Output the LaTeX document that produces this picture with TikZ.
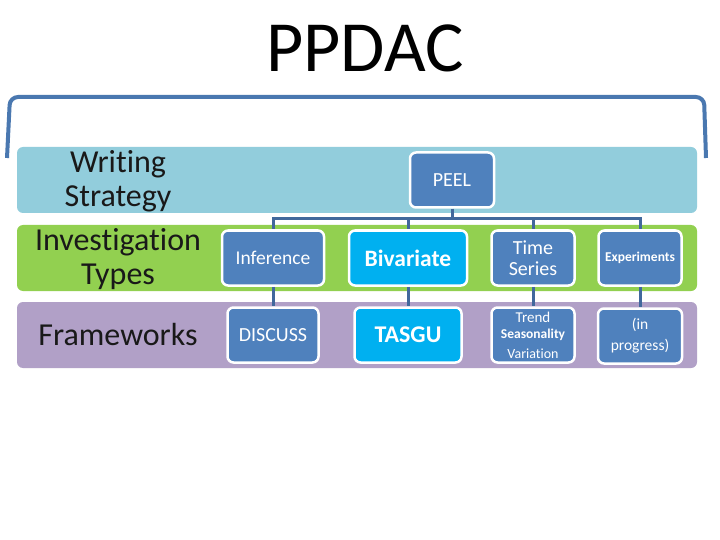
\documentclass[tikz,border=0pt]{standalone}
\usepackage{fontspec}
\setmainfont{Carlito}[Ligatures=NoCommon]
\definecolor{bandblue}{HTML}{92CDDC}
\definecolor{bandgreen}{HTML}{92D050}
\definecolor{bandpurple}{HTML}{B1A0C7}
\definecolor{boxblue}{HTML}{4F81BD}
\definecolor{boxcyan}{HTML}{00B0F0}
\definecolor{linecol}{HTML}{41689C}
\definecolor{bracketcol}{HTML}{4A78B0}
\tikzset{
  band/.style={fill=#1, rounded corners=6pt, draw=none, minimum width=680pt, minimum height=66pt, inner sep=0pt},
  box/.style={fill=boxblue, draw=white, line width=2.5pt, rounded corners=6pt, text=white, align=center, inner sep=0pt, minimum height=55pt},
  cbox/.style={box, fill=boxcyan},
  conn/.style={draw=linecol, line width=3pt},
  lab/.style={align=center, font=\fontsize{32}{34}\selectfont, text=black!90}
}
\begin{document}
\begin{tikzpicture}[x=1pt,y=-1pt]
\useasboundingbox (0,0) rectangle (720,540);
\fill[white] (0,0) rectangle (720,540);
% title
\node[font=\fontsize{72}{74}\selectfont] (title) at (365,48) {PPDAC};
% bracket
\draw[draw=bracketcol, line width=4pt, rounded corners=8pt] (7,158) -- (10,97) -- (704,97) -- (706,158);
% bands
\node[band=bandblue] (b1) at (357,180) {};
\node[band=bandgreen] (b2) at (357,258) {};
\node[band=bandpurple] (b3) at (357,335) {};
% labels
\node[lab] (l1) at (118,181) {Writing\\Strategy};
\node[lab] (l2) at (118,259) {Investigation\\Types};
\node[lab] (l3) at (118,335) {Frameworks};
% boxes
\node[box, minimum width=84pt, font=\fontsize{20}{22}\selectfont] (peel) at (452,180) {PEEL};
\node[box, minimum width=102pt, font=\fontsize{19.5}{21}\selectfont] (inf) at (273,258) {Inference};
\node[cbox, minimum width=118pt, font=\bfseries\fontsize{23.5}{25}\selectfont] (biv) at (408,258) {Bivariate};
\node[box, minimum width=83pt, font=\fontsize{20}{21}\selectfont] (ts) at (533,258) {Time\\Series};
\node[box, minimum width=83pt, font=\bfseries\fontsize{13.5}{15}\selectfont] (exp) at (640,258) {Experiments};
\node[box, minimum width=91pt, font=\fontsize{20}{22}\selectfont] (disc) at (273,335) {DISCUSS};
\node[cbox, minimum width=107pt, font=\bfseries\fontsize{24}{26}\selectfont] (tasgu) at (408,335) {TASGU};
\node[box, minimum width=83pt, font=\fontsize{15}{17}\selectfont] (trend) at (533,335) {Trend\\[-1pt]{\bfseries\fontsize{13.5}{15}\selectfont Seasonality}\\[3pt]{\fontsize{14}{15}\selectfont Variation}};
\node[box, minimum width=84pt, font=\fontsize{15.5}{21}\selectfont] (prog) at (640,336) {(in\\progress)};
% connectors
\coordinate (bus) at (452,219);
\draw[conn] (peel.south) -- (bus);
\draw[conn] (bus) -| (inf.north);
\draw[conn] (bus) -| (biv.north);
\draw[conn] (bus) -| (ts.north);
\draw[conn] (bus) -| (exp.north);
\draw[conn] (inf.south) -- (disc.north);
\draw[conn] (biv.south) -- (tasgu.north);
\draw[conn] (ts.south) -- (trend.north);
\draw[conn] (exp.south) -- (prog.north);
\end{tikzpicture}
\end{document}
